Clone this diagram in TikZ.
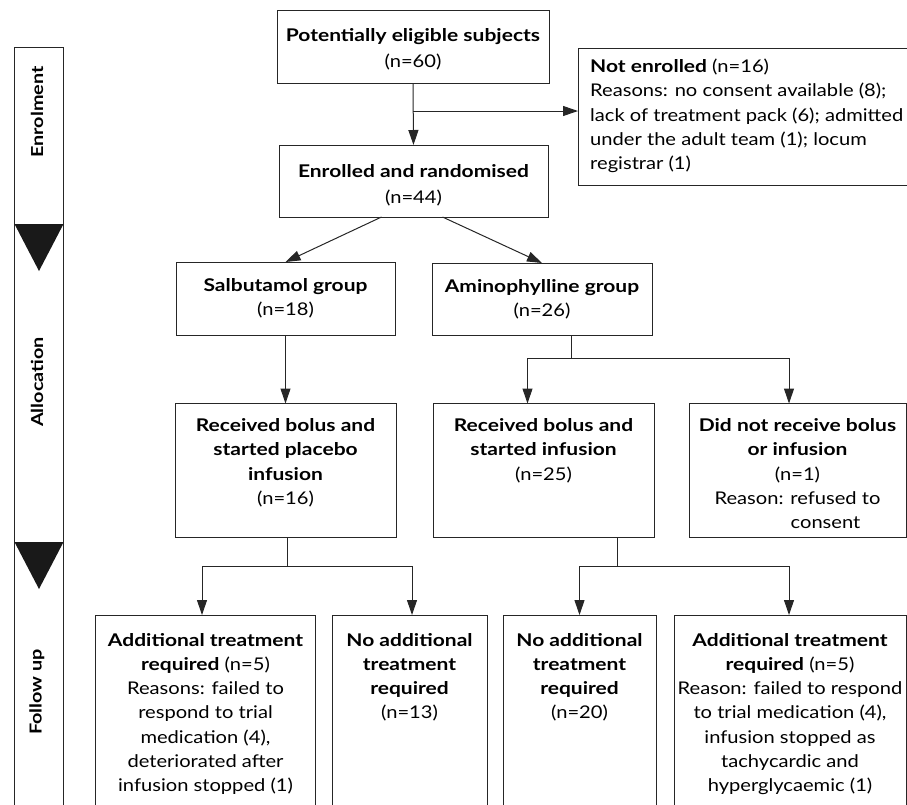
\documentclass[tikz,border=0pt]{standalone}
\usepackage{fontspec}
\setmainfont{Lato}[FakeStretch=1.15, BoldFeatures={FakeStretch=1.2}]
\usetikzlibrary{arrows.meta,calc}
\begin{document}
\begin{tikzpicture}[x=1pt,y=-1pt,
  box/.style={draw=black!85, line width=1pt, inner sep=0pt, outer sep=0pt, rectangle},
  txt/.style={align=center, inner sep=0pt, font=\fontsize{17.5}{24.2}\selectfont},
  arr/.style={draw=black!85, line width=1pt, -{Triangle[length=15pt,width=10pt]}},
  ln/.style={draw=black!85, line width=1pt},
  phase/.style={rotate=90, inner sep=0pt, font=\fontsize{16.5}{22}\selectfont\bfseries}]
\useasboundingbox (0,0) rectangle (907,804);
\begin{scope}
\clip (0,0) rectangle (907,804);
% phase column
\node[box, minimum width=49, minimum height=800, anchor=north west] (col) at (14.5,47) {};
\fill[black!90] (14.5,224) -- (63.5,224) -- (39,271) -- cycle;
\fill[black!90] (14.5,542) -- (63.5,542) -- (39,589) -- cycle;
\node[phase] (p1) at (37,112) {Enrolment};
\node[phase] (p2) at (37,382) {Allocation};
\node[phase] (p3) at (37,692) {Follow up};

% boxes
\node[box, minimum width=272, minimum height=73] (pes) at (413,46.5) {};
\node[txt, font=\fontsize{17.5}{26.5}\selectfont] (pest) at ([yshift=-3]pes.center) {\textbf{Potentially eligible subjects}\\(n=60)};
\node[box, minimum width=329, minimum height=137] (ne) at (742.5,116.5) {};
\node[txt, align=left, anchor=north west] (net) at ($(ne.north west)+(12,11)$) {\textbf{Not enrolled} (n=16)\\Reasons: no consent available (8);\\lack of treatment pack (6); admitted\\under the adult team (1); locum\\registrar (1)};
\node[box, minimum width=269, minimum height=72] (enr) at (413.5,181) {};
\node[txt, font=\fontsize{17.5}{26}\selectfont] (enrt) at ([yshift=-4]enr.center) {\textbf{Enrolled and randomised}\\(n=44)};
\node[box, minimum width=219, minimum height=73] (sal) at (285.5,298.5) {};
\node[txt] (salt) at (sal.center) {\textbf{Salbutamol group}\\(n=18)};
\node[box, minimum width=220, minimum height=72] (ami) at (542,299) {};
\node[txt] (amit) at (ami.center) {\textbf{Aminophylline group}\\(n=26)};
\node[box, minimum width=221, minimum height=134] (rp) at (285.5,470.5) {};
\node[txt, anchor=north] (rpt) at ($(rp.north)+(0,15)$) {\textbf{Received bolus and}\\\textbf{started placebo}\\\textbf{infusion}\\(n=16)};
\node[box, minimum width=221, minimum height=134] (ri) at (543.5,470.5) {};
\node[txt, anchor=north] (rit) at ($(ri.north)+(0,15)$) {\textbf{Received bolus and}\\\textbf{started infusion}\\(n=25)};
\node[box, minimum width=217, minimum height=134] (dn) at (797.5,470.5) {};
\node[txt, anchor=north] (dnt) at ($(dn.north)+(0,15)$) {\textbf{Did not receive bolus}\\\textbf{or infusion}\\(n=1)\\Reason: refused to\\\hspace*{3.2em}consent};
\node[box, minimum width=220, minimum height=220, anchor=north] (ba) at (205.5,615) {};
\node[txt, anchor=north] (bat) at ($(ba.north)+(0,18)$) {\textbf{Additional treatment}\\\textbf{required} (n=5)\\Reasons: failed to\\respond to trial\\medication (4),\\deteriorated after\\infusion stopped (1)};
\node[box, minimum width=155, minimum height=220, anchor=north] (bb) at (409.5,615) {};
\node[txt, anchor=north] (bbt) at ($(bb.north)+(0,18)$) {\textbf{No additional}\\\textbf{treatment}\\\textbf{required}\\(n=13)};
\node[box, minimum width=153, minimum height=220, anchor=north] (bc) at (579.5,615) {};
\node[txt, anchor=north] (bct) at ($(bc.north)+(0,18)$) {\textbf{No additional}\\\textbf{treatment}\\\textbf{required}\\(n=20)};
\node[box, minimum width=232, minimum height=220, anchor=north] (bd) at (790,615) {};
\node[txt, anchor=north] (bdt) at ($(bd.north)+(0,18)$) {\textbf{Additional treatment}\\\textbf{required} (n=5)\\Reason: failed to respond\\to trial medication (4),\\infusion stopped as\\tachycardic and\\hyperglycaemic (1)};

% connectors
\coordinate (j1) at (pes.south |- 0,111);
\draw[arr] (pes.south) -- (enr.north);
\draw[arr] (j1) -- (j1 -| ne.west);
\draw[arr] ([xshift=-32]enr.south) -- (sal.north);
\draw[arr] ([xshift=29]enr.south) -- (ami.north);
\draw[arr] (sal.south) -- (rp.north);
\coordinate (j2) at (571,358);
\draw[ln] (571,0 |- ami.south) -- (j2);
\coordinate (j2l) at (527.5,358);
\coordinate (j2r) at (789,358);
\draw[ln] (j2l) -- (j2r);
\draw[arr] (j2l) -- (j2l |- ri.north);
\draw[arr] (j2r) -- (j2r |- dn.north);
\coordinate (j3) at (287,566);
\coordinate (j3l) at (202,566);
\coordinate (j3r) at (412,566);
\draw[ln] (287,0 |- rp.south) -- (j3);
\draw[ln] (j3l) -- (j3r);
\draw[arr] (j3l) -- (j3l |- ba.north);
\draw[arr] (j3r) -- (j3r |- bb.north);
\coordinate (j4) at (617,566);
\coordinate (j4l) at (579.5,566);
\coordinate (j4r) at (789,566);
\draw[ln] (617,0 |- ri.south) -- (j4);
\draw[ln] (j4l) -- (j4r);
\draw[arr] (j4l) -- (j4l |- bc.north);
\draw[arr] (j4r) -- (j4r |- bd.north);
\end{scope}
\end{tikzpicture}
\end{document}
